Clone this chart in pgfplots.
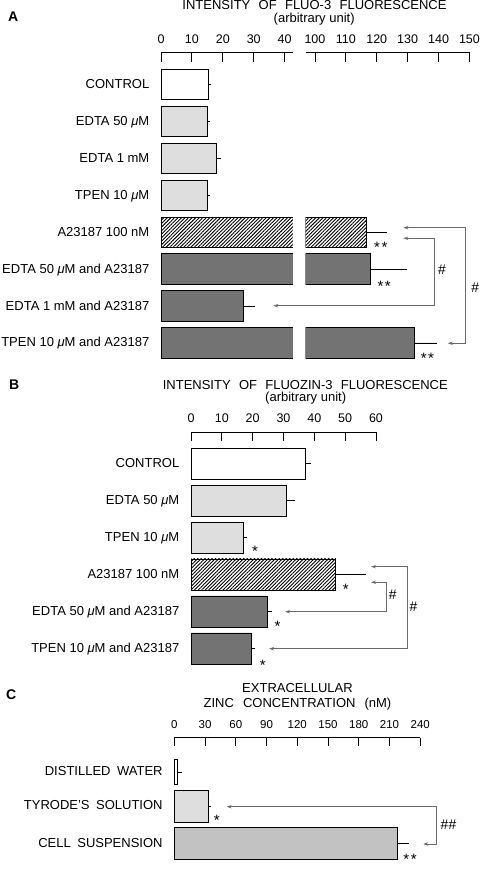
\documentclass[border=0pt]{standalone}
\usepackage{fontspec}
\setmainfont{Liberation Sans}
\usepackage{pgfplots}
\pgfplotsset{compat=1.18}
\usepackage{pgfplotstable}
\usetikzlibrary{patterns.meta,arrows.meta}
\newcommand\fs[1]{\fontsize{#1}{#1}\selectfont}
\definecolor{lightdot}{gray}{0.87}
\definecolor{darkbar}{gray}{0.45}
\definecolor{cellbar}{gray}{0.76}
\definecolor{arrowgray}{gray}{0.42}
\newcommand\mum{\textit{μ}M}
\newcommand\wsp{\hspace{0.64em}}

\tikzset{
  arr/.style={draw=arrowgray, line width=0.7pt, {Stealth[length=5pt,width=3.4pt]}-{Stealth[length=5pt,width=3.4pt]}},
  star/.style={font=\fs{15}, anchor=base, inner sep=0pt},
  hash/.style={font=\fs{14}\itshape, anchor=center, inner sep=0pt},
}
\pgfplotsset{
  tickax/.style={
    axis x line*=top, axis y line*=left,
    y axis line style={draw=none}, ytick style={draw=none},
    x axis line style={line width=0.9pt,-},
    xtick style={line width=0.9pt,black},
    tick align=inside, major tick length=9.4pt,
    enlargelimits=false, clip=false,
    /pgf/number format/assume math mode=true,
    xticklabel style={font=\fs{12.5}, inner sep=0pt, anchor=base, yshift=9pt},
    yticklabel style={font=\fs{13}, inner sep=0pt, anchor=base east, yshift=-4pt, xshift=-11.5pt},
    minor tick num=0,
  },
  dataax/.style={hide axis, enlargelimits=false, clip=true},
  hbar/.style={xbar, bar shift=0pt, bar width=30.5pt, draw=black, line width=0.9pt,
     /pgfplots/error bars/x dir=plus, /pgfplots/error bars/x explicit,
     /pgfplots/error bars/error mark=none,
     /pgfplots/error bars/error bar style={line width=0.9pt, draw=black, fill=none}},
  white bar/.style={hbar, fill=white},
  dot bar/.style={hbar, fill=lightdot},
  hatch bar/.style={hbar, pattern={Lines[angle=45,distance=2.5pt,line width=0.9pt]}, pattern color=black},
  dark bar/.style={hbar, fill=darkbar},
  cell bar/.style={hbar, fill=cellbar},
}

% ---------- Panel A data (fluo-3) ----------
\pgfplotstableread{
y val err
-84.7 15.5 0.8
}\AW
\pgfplotstableread{
y val err
-121.6 14.9 1.1
-158.5 18.0 1.4
-195.4 14.9 1.0
}\AD
\pgfplotstableread{
y val err
-232.3 116.8 6.4
}\AH
\pgfplotstableread{
y val err
-269.2 118.0 11.9
-306.1 26.7 3.7
-343.0 132.1 7.5
}\AK
% ---------- Panel B data (fluozin-3) ----------
\pgfplotstableread{
y val err
-463.5 37.1 1.9
}\BW
\pgfplotstableread{
y val err
-500.5 31.0 2.6
-537.5 17.1 1.0
}\BD
\pgfplotstableread{
y val err
-574.5 47.0 9.6
}\BH
\pgfplotstableread{
y val err
-611.5 24.7 1.5
-648.5 19.7 1.1
}\BK
% ---------- Panel C data (zinc, nM) ----------
\pgfplotstableread{
y val err
-772.0 2.9 4.3
}\CW
\pgfplotstableread{
y val err
-806.0 33.2 2.6
}\CD
\pgfplotstableread{
y val err
-843.2 217.6 11.7
}\CC

\begin{document}
\begin{tikzpicture}
\useasboundingbox (0,0) rectangle (480pt,873pt);

% ===== Panel A: left part (0-40) =====
\begin{axis}[tickax, x=3.09pt, y=1pt, xmin=0, xmax=42.7, ymin=-370, ymax=-52.3,
  at={(161pt,503pt)}, anchor=south west, xtick={0,10,...,40},
  ytick={-84.7,-121.6,-158.5,-195.4,-232.3,-269.2,-306.1,-343.0},
  yticklabels={{CONTROL},{EDTA 50 \mum},{EDTA 1 mM},{TPEN 10 \mum},{A23187 100 nM},{EDTA 50 \mum\ and A23187},{EDTA 1 mM and A23187},{TPEN 10 \mum\ and A23187}}]
\end{axis}
\begin{axis}[dataax, x=3.09pt, y=1pt, xmin=-3, xmax=42.7, ymin=-370, ymax=-52.3,
  at={(151.73pt,503pt)}, anchor=south west]
\addplot[white bar] table[x=val,y=y,x error=err]{\AW};
\addplot[dot bar] table[x=val,y=y,x error=err]{\AD};
\addplot[hatch bar] table[x=val,y=y,x error=err]{\AH};
\addplot[dark bar] table[x=val,y=y,x error=err]{\AK};
\end{axis}
% ===== Panel A: right part (100-150), only the bars that reach it =====
\begin{axis}[dataax, x=3.09pt, y=1pt, xmin=97, xmax=160, ymin=-370, ymax=-52.3,
  at={(305.7pt,503pt)}, anchor=south west]
\addplot[hatch bar, restrict x to domain=90:200] table[x=val,y=y,x error=err]{\AH};
\addplot[dark bar, restrict x to domain=90:200] table[x=val,y=y,x error=err]{\AK};
\end{axis}
\begin{axis}[tickax, x=3.09pt, y=1pt, xmin=97, xmax=150, ymin=-370, ymax=-52.3,
  at={(305.7pt,503pt)}, anchor=south west, xtick={100,110,...,150}, ytick=\empty]
\draw[arr] (axis cs:143.0,-343.3) -- (axis cs:148.6,-343.3) -- (axis cs:148.6,-227.7) -- (axis cs:128.6,-227.7);
\draw[arr] (axis cs:86.5,-305.7) -- (axis cs:138.6,-305.7) -- (axis cs:138.6,-238.3) -- (axis cs:128.6,-238.3);
\node[hash] at (axis cs:151.8,-287.7) {\#};
\node[hash] at (axis cs:141.0,-269.3) {\#};
\node[star] at (axis cs:121.3,-252.5) {*\kern1.5pt*};
\node[star] at (axis cs:122.4,-291.8) {*\kern1.5pt*};
\node[star] at (axis cs:136.4,-363.5) {*\kern1.5pt*};
\end{axis}

% ===== Panel B =====
\begin{axis}[tickax, x=3.083pt, y=1pt, xmin=0, xmax=60, ymin=-680, ymax=-432,
  at={(191pt,193pt)}, anchor=south west, xtick={0,10,...,60},
  ytick={-463.5,-500.5,-537.5,-574.5,-611.5,-648.5},
  yticklabels={{CONTROL},{EDTA 50 \mum},{TPEN 10 \mum},{A23187 100 nM},{EDTA 50 \mum\ and A23187},{TPEN 10 \mum\ and A23187}},
  hbar/.append style={bar width=31pt}]
\addplot[white bar] table[x=val,y=y,x error=err]{\BW};
\addplot[dot bar] table[x=val,y=y,x error=err]{\BD};
\addplot[hatch bar] table[x=val,y=y,x error=err]{\BH};
\addplot[dark bar] table[x=val,y=y,x error=err]{\BK};
\draw[arr] (axis cs:25.3,-648.7) -- (axis cs:70.2,-648.7) -- (axis cs:70.2,-566.7) -- (axis cs:58.4,-566.7);
\draw[arr] (axis cs:30.5,-611.7) -- (axis cs:63.5,-611.7) -- (axis cs:63.5,-582.3) -- (axis cs:58.4,-582.3);
\node[hash] at (axis cs:65.4,-595.0) {\#};
\node[hash] at (axis cs:72.1,-606.7) {\#};
\node[star] at (axis cs:20.8,-557.0) {*};
\node[star] at (axis cs:50.2,-594.7) {*};
\node[star] at (axis cs:28.1,-631.3) {*};
\node[star] at (axis cs:23.3,-670.3) {*};
\end{axis}

% ===== Panel C =====
\begin{axis}[tickax, x=1.025pt, y=1pt, xmin=0, xmax=240, ymin=-870, ymax=-737.7,
  at={(174.3pt,3pt)}, anchor=south west, xtick={0,30,...,240}, major tick length=8pt,
  xticklabel style={font=\fs{11.5}, yshift=0.4pt},
  ytick={-772.0,-806.0,-843.2},
  yticklabels={{DISTILLED\hspace{0.5em}WATER},{TYRODE'S\hspace{0.5em}SOLUTION},{CELL\hspace{0.5em}SUSPENSION}}]
\addplot[white bar, bar width=24.3pt] table[x=val,y=y,x error=err]{\CW};
\addplot[dot bar, bar width=32pt] table[x=val,y=y,x error=err]{\CD};
\addplot[cell bar, bar width=31.7pt] table[x=val,y=y,x error=err]{\CC};
\draw[arr] (axis cs:51.1,-806.7) -- (axis cs:255.3,-806.7) -- (axis cs:255.3,-844.0) -- (axis cs:242.9,-844.0);
\node[hash] at (axis cs:267.3,-824.3) {\#\#};
\node[star] at (axis cs:41.4,-825.3) {*};
\node[star] at (axis cs:230.0,-864.7) {*\kern1.5pt*};
\end{axis}

% ===== Titles and panel letters =====
\node[anchor=base west, inner sep=0pt, font=\fs{14}\bfseries] at (8pt,851.3pt) {A};
\node[anchor=base, inner sep=0pt, font=\fs{13}] at (314.5pt,863.7pt) {INTENSITY\wsp OF\wsp FLUO-3\wsp FLUORESCENCE};
\node[anchor=base, inner sep=0pt, font=\fs{13}] at (314.2pt,850.5pt) {(arbitrary unit)};

\node[anchor=base west, inner sep=0pt, font=\fs{14}\bfseries] at (9pt,483pt) {B};
\node[anchor=base, inner sep=0pt, font=\fs{13}] at (305.3pt,483pt) {INTENSITY\wsp OF\wsp FLUOZIN-3\wsp FLUORESCENCE};
\node[anchor=base, inner sep=0pt, font=\fs{13}] at (305.7pt,471.5pt) {(arbitrary unit)};

\node[anchor=base west, inner sep=0pt, font=\fs{14}\bfseries] at (6pt,173pt) {C};
\node[anchor=base, inner sep=0pt, font=\fs{13}] at (297.5pt,180.3pt) {EXTRACELLULAR};
\node[anchor=base, inner sep=0pt, font=\fs{13}] at (297.5pt,165.3pt) {ZINC\hspace{0.7em}CONCENTRATION\hspace{0.7em}(nM)};
\end{tikzpicture}
\end{document}
